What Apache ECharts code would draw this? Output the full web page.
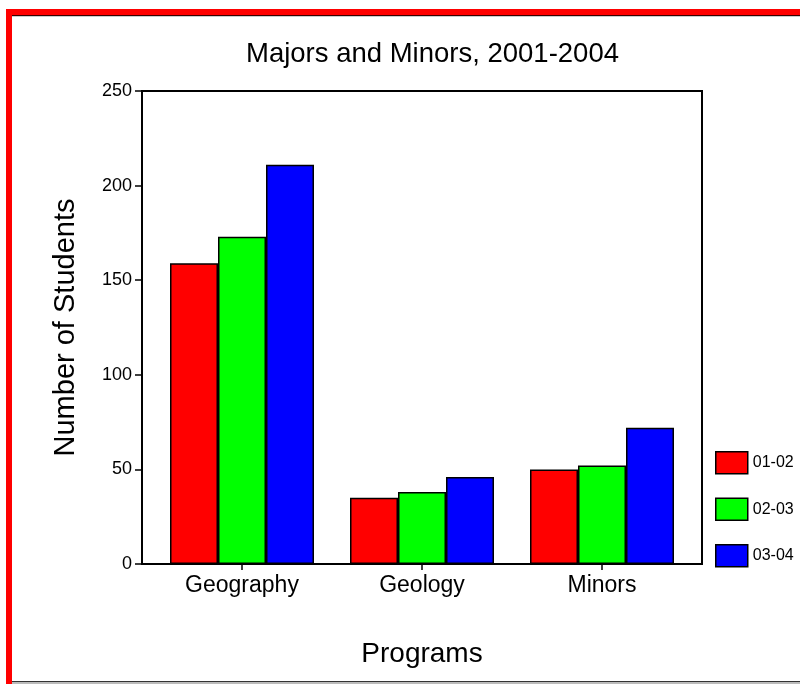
<!DOCTYPE html>
<html>
<head>
<meta charset="utf-8">
<script src="https://cdn.jsdelivr.net/npm/echarts@6/dist/echarts.min.js"></script>
<style>
html,body{margin:0;padding:0;background:#fff;}
#chart{width:800px;height:684px;}
</style>
</head>
<body>
<div id="chart"></div>
<script>
const categories = ['Geography', 'Geology', 'Minors'];
const seriesNames = ['01-02', '02-03', '03-04'];
const values0102 = [159, 35, 50];
const values0203 = [173, 38, 52];
const values0304 = [211, 46, 72];
const yTicks = [0, 50, 100, 150, 200, 250];
const seriesColors = ['#FF0000', '#00FF00', '#0000FF'];

const FONT = '"Liberation Sans", Arial, sans-serif';
const chart = echarts.init(document.getElementById('chart'), null, {renderer: 'canvas'});

const allValues = [values0102, values0203, values0304];

chart.setOption({
  animation: false,
  backgroundColor: '#ffffff',
  title: {
    text: 'Majors and Minors, 2001-2004',
    left: 246,
    top: 40,
    padding: 0,
    textStyle: {fontFamily: FONT, fontSize: 27.5, fontWeight: 'normal', color: '#000'}
  },
  legend: {
    orient: 'vertical',
    left: 715,
    top: 451,
    padding: 0,
    itemWidth: 32,
    itemHeight: 22,
    itemGap: 23,
    icon: 'rect',
    itemStyle: {borderColor: '#000', borderWidth: 1.5},
    textStyle: {fontFamily: FONT, fontSize: 16, color: '#000'},
    data: seriesNames
  },
  graphic: [
    {type: 'rect', shape: {x: 12, y: 15, width: 788, height: 1}, style: {fill: '#3a0000'}, silent: true},
    {type: 'rect', shape: {x: 12, y: 16, width: 788, height: 1}, style: {fill: '#cccccc'}, silent: true},
    {type: 'rect', shape: {x: 12, y: 681, width: 788, height: 1}, style: {fill: '#333333'}, silent: true},
    {type: 'rect', shape: {x: 12, y: 682, width: 788, height: 2}, style: {fill: '#bbbbbb'}, silent: true},
    {type: 'rect', shape: {x: 6, y: 9, width: 794, height: 6}, style: {fill: '#FF0000'}, silent: true},
    {type: 'rect', shape: {x: 6, y: 9, width: 6, height: 675}, style: {fill: '#FF0000'}, silent: true}
  ],
  grid: [
    {left: 142, top: 91, width: 560, height: 473, show: true, borderColor: '#000', borderWidth: 2, backgroundColor: 'transparent'},
    {left: 152, top: 91, width: 540, height: 473}
  ],
  xAxis: [
    {
      gridIndex: 0, type: 'category', data: categories,
      axisLine: {show: true, lineStyle: {color: '#000', width: 2}},
      axisTick: {show: false}, axisLabel: {show: false}, splitLine: {show: false},
      name: 'Programs', nameLocation: 'middle', nameGap: 76,
      nameTextStyle: {fontFamily: FONT, fontSize: 28, color: '#000'}
    },
    {
      gridIndex: 1, type: 'category', data: categories,
      axisLine: {show: false},
      axisTick: {show: true, alignWithLabel: true, length: 6, lineStyle: {color: '#000', width: 1.5}},
      axisLabel: {fontFamily: FONT, fontSize: 23, color: '#000', margin: 10},
      splitLine: {show: false}
    }
  ],
  yAxis: [
    {
      gridIndex: 0, type: 'value', min: yTicks[0], max: yTicks[yTicks.length - 1], interval: 50,
      axisLine: {show: true, lineStyle: {color: '#000', width: 2}},
      axisTick: {show: true, length: 7, lineStyle: {color: '#000', width: 1.5}},
      axisLabel: {fontFamily: FONT, fontSize: 18, color: '#000', margin: 10},
      splitLine: {show: false},
      name: 'Number of Students', nameLocation: 'middle', nameGap: 62,
      nameTextStyle: {fontFamily: FONT, fontSize: 29, color: '#000'}
    },
    {
      gridIndex: 1, type: 'value', min: yTicks[0], max: yTicks[yTicks.length - 1], interval: 50,
      show: false
    }
  ],
  series: seriesNames.map((name, i) => ({
    name: name,
    type: 'bar',
    xAxisIndex: 1,
    yAxisIndex: 1,
    data: allValues[i],
    barWidth: 48,
    barGap: '0%',
    itemStyle: {color: seriesColors[i], borderColor: '#000', borderWidth: 1.5}
  }))
});
</script>
</body>
</html>
